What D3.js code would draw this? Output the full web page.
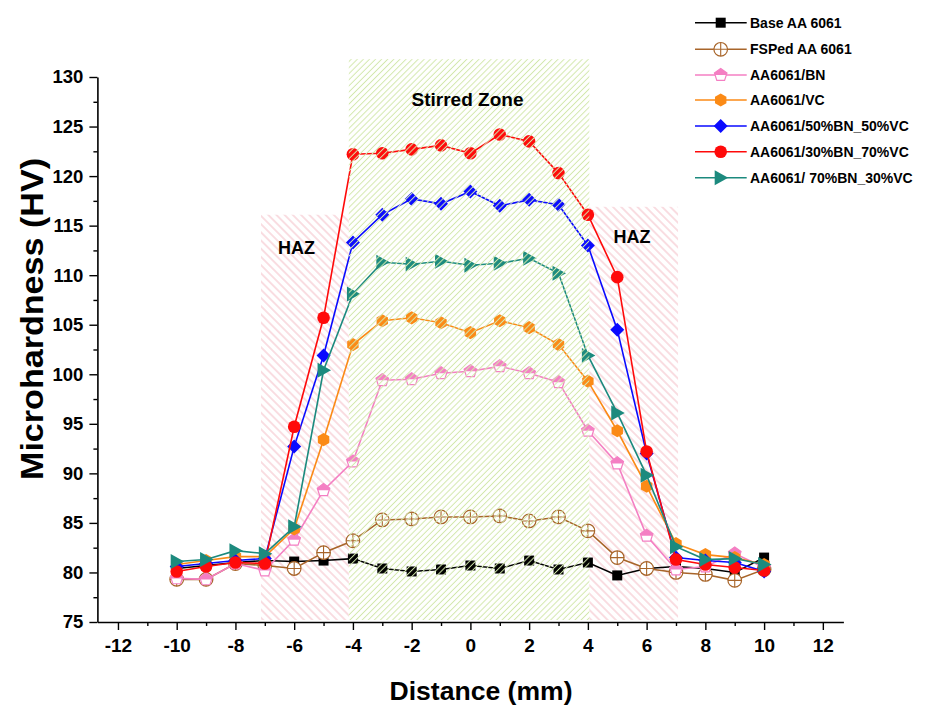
<!DOCTYPE html>
<html>
<head>
<meta charset="utf-8">
<script src="https://cdn.jsdelivr.net/npm/d3@7"></script>
<style>
  html, body { margin: 0; padding: 0; background: #fff; }
  svg { display: block; font-family: "Liberation Sans", Arial, Helvetica, sans-serif; font-weight: bold; }
</style>
</head>
<body>
<svg id="chart" width="926" height="706"></svg>
<script>
// Microhardness profiles across the weld, one value per mm from -10 to 10
const distance = [-10, -9, -8, -7, -6, -5, -4, -3, -2, -1, 0, 1, 2, 3, 4, 5, 6, 7, 8, 9, 10];

const baseAA6061 = [80.4, 80.7, 81.0, 81.2, 81.1, 81.2, 81.4, 80.4, 80.1, 80.3, 80.7, 80.4, 81.2, 80.3, 81.0, 79.7, 80.4, 80.6, 80.4, 80.0, 81.5];
const fspAA6061 = [79.3, 79.3, 80.9, 80.7, 80.4, 82.0, 83.2, 85.3, 85.4, 85.6, 85.6, 85.7, 85.2, 85.6, 84.2, 81.5, 80.4, 80.0, 79.8, 79.2, 80.3];
const bnComposite = [79.4, 79.3, 80.9, 80.2, 83.3, 88.3, 91.2, 99.4, 99.5, 100.1, 100.3, 100.8, 100.1, 99.2, 94.3, 91.0, 83.7, 80.3, 80.6, 81.9, 80.5];
const vcComposite = [80.8, 81.2, 81.6, 81.6, 84.4, 93.4, 103.0, 105.4, 105.7, 105.2, 104.2, 105.4, 104.7, 103.0, 99.3, 94.3, 88.7, 82.9, 81.8, 81.5, 80.8];
const bn50vc50 = [80.6, 80.9, 81.2, 81.4, 92.7, 101.9, 113.3, 116.1, 117.7, 117.2, 118.45, 117.0, 117.6, 117.1, 113.0, 104.5, 92.0, 81.5, 81.2, 81.0, 80.1];
const bn30vc70 = [80.1, 80.6, 81.0, 80.9, 94.7, 105.7, 122.2, 122.3, 122.7, 123.1, 122.3, 124.2, 123.5, 120.3, 116.1, 109.8, 92.2, 81.3, 80.8, 80.5, 80.2];
const bn70vc30 = [81.1, 81.3, 82.2, 81.9, 84.6, 100.4, 108.1, 111.3, 111.1, 111.4, 111.0, 111.2, 111.7, 110.2, 101.9, 96.1, 89.8, 82.6, 81.3, 81.4, 80.8];

const seriesNames = ["Base AA 6061", "FSPed AA 6061", "AA6061/BN", "AA6061/VC",
                     "AA6061/50%BN_50%VC", "AA6061/30%BN_70%VC", "AA6061/ 70%BN_30%VC"];
const seriesValues = [baseAA6061, fspAA6061, bnComposite, vcComposite, bn50vc50, bn30vc70, bn70vc30];
const seriesColors = ["#000000", "#a8652a", "#f47fc3", "#fb8a16", "#0a0aff", "#ff0a0a", "#1c8a7e"];
const seriesMarkers = ["square", "crossCircle", "halfPentagon", "hexagon", "diamond", "circle", "triangleRight"];

const xTicks = [-12, -10, -8, -6, -4, -2, 0, 2, 4, 6, 8, 10, 12];
const xMinorTicks = [-11, -9, -7, -5, -3, -1, 1, 3, 5, 7, 9, 11];
const yTicks = [75, 80, 85, 90, 95, 100, 105, 110, 115, 120, 125, 130];
const yMinorTicks = [77.5, 82.5, 87.5, 92.5, 97.5, 102.5, 107.5, 112.5, 117.5, 122.5, 127.5];

// Zones along the weld: [x start, x end, top hardness]
const hazLeft = [-7.13, -4.14, 116.1];
const stirredZone = [-4.14, 4.05, 131.8];
const hazRight = [4.05, 7.07, 116.9];

const svg = d3.select("#chart");
const x = d3.scaleLinear().domain([-12.7, 12.7]).range([97.4, 843.4]);
const y = d3.scaleLinear().domain([75, 130]).range([622, 77]);

// Hatch patterns for the zones
const defs = svg.append("defs");
function hatch(id, color, spacing, angle, width) {
  const p = defs.append("pattern")
    .attr("id", id)
    .attr("patternUnits", "userSpaceOnUse")
    .attr("width", spacing).attr("height", spacing)
    .attr("patternTransform", `rotate(${angle})`);
  p.append("line")
    .attr("x1", spacing / 2).attr("y1", -1)
    .attr("x2", spacing / 2).attr("y2", spacing + 1)
    .attr("stroke", color).attr("stroke-width", width);
}
hatch("hazHatch", "#f4bcc4", 5.8, -45, 1);
hatch("szHatch", "#d2e7ac", 4.3, 45, 1);

function zoneRect(g, zone, fill) {
  g.append("rect")
    .attr("x", x(zone[0]))
    .attr("y", y(zone[2]))
    .attr("width", x(zone[1]) - x(zone[0]))
    .attr("height", y(75.2) - y(zone[2]))
    .attr("fill", fill);
}

const under = svg.append("g");
zoneRect(under, hazLeft, "url(#hazHatch)");
zoneRect(under, hazRight, "url(#hazHatch)");

// Axes
const xAxis = svg.append("g").attr("transform", `translate(0,${y(75)})`)
  .call(d3.axisBottom(x).tickValues(xTicks).tickSize(8).tickSizeOuter(0).tickPadding(9));
svg.append("g").attr("transform", `translate(0,${y(75)})`)
  .call(d3.axisBottom(x).tickValues(xMinorTicks).tickSize(4).tickSizeOuter(0).tickFormat(""))
  .select(".domain").remove();
const yAxis = svg.append("g").attr("transform", `translate(${x.range()[0]},0)`)
  .call(d3.axisLeft(y).tickValues(yTicks).tickSize(8).tickSizeOuter(0).tickPadding(6));
svg.append("g").attr("transform", `translate(${x.range()[0]},0)`)
  .call(d3.axisLeft(y).tickValues(yMinorTicks).tickSize(4).tickSizeOuter(0).tickFormat(""))
  .select(".domain").remove();

svg.selectAll(".domain").attr("stroke-width", 1.6);
svg.selectAll(".tick line").attr("stroke-width", 1.4);
xAxis.selectAll(".tick text")
  .attr("font-size", 19).attr("font-weight", "bold").attr("font-family", "inherit")
  .text(d => d < 0 ? "-" + Math.abs(d) : d);
yAxis.selectAll(".tick text")
  .attr("font-size", 18.5).attr("font-weight", "bold").attr("font-family", "inherit");

// Axis titles
svg.append("text")
  .attr("x", 481).attr("y", 700)
  .attr("text-anchor", "middle")
  .attr("font-size", 26)
  .attr("textLength", 183).attr("lengthAdjust", "spacingAndGlyphs")
  .text("Distance (mm)");
svg.append("text")
  .attr("transform", "translate(43,319) rotate(-90)")
  .attr("text-anchor", "middle")
  .attr("font-size", 31)
  .attr("textLength", 322).attr("lengthAdjust", "spacingAndGlyphs")
  .text("Microhardness (HV)");

// Marker shapes
function drawMarker(g, type, color) {
  switch (type) {
    case "square":
      g.append("rect").attr("x", -5).attr("y", -5).attr("width", 10).attr("height", 10).attr("fill", color);
      break;
    case "crossCircle":
      g.append("circle").attr("r", 6.8).attr("fill", "#fff").attr("stroke", color).attr("stroke-width", 1.2);
      g.append("path").attr("d", "M-6.8,0H6.8M0,-6.8V6.8").attr("stroke", color).attr("stroke-width", 1.1);
      break;
    case "halfPentagon": {
      const r = 6.6;
      const pts = d3.range(5).map(i => {
        const a = -Math.PI / 2 + i * 2 * Math.PI / 5;
        return [r * Math.cos(a), r * Math.sin(a)];
      });
      g.append("polygon").attr("points", pts.map(p => p.join(",")).join(" "))
        .attr("fill", "#fff").attr("stroke", color).attr("stroke-width", 1.2);
      const t = (0 - pts[1][1]) / (pts[2][1] - pts[1][1]);
      const xr = pts[1][0] + (pts[2][0] - pts[1][0]) * t;
      const top = [pts[0], pts[1], [xr, 0], [-xr, 0], pts[4]];
      g.append("polygon").attr("points", top.map(p => p.join(",")).join(" ")).attr("fill", color);
      break;
    }
    case "hexagon": {
      const r = 6.6;
      const pts = d3.range(6).map(i => {
        const a = -Math.PI / 2 + i * Math.PI / 3;
        return [r * Math.cos(a), r * Math.sin(a)].join(",");
      });
      g.append("polygon").attr("points", pts.join(" ")).attr("fill", color);
      break;
    }
    case "diamond":
      g.append("polygon").attr("points", "0,-7 7,0 0,7 -7,0").attr("fill", color);
      break;
    case "circle":
      g.append("circle").attr("r", 6.3).attr("fill", color);
      break;
    case "triangleRight":
      g.append("polygon").attr("points", "7.5,0 -6,-7.5 -6,7.5").attr("fill", color);
      break;
  }
}

// Series lines and markers
const line = d3.line().x((d, i) => x(distance[i])).y(d => y(d));
seriesValues.forEach((vals, k) => {
  const g = svg.append("g");
  g.append("path").datum(vals)
    .attr("d", line)
    .attr("fill", "none")
    .attr("stroke", seriesColors[k])
    .attr("stroke-width", 1.6);
  vals.forEach((v, i) => {
    const m = g.append("g").attr("transform", `translate(${x(distance[i])},${y(v)})`);
    drawMarker(m, seriesMarkers[k], seriesColors[k]);
  });
});

// Stirred zone hatch sits over the data
const over = svg.append("g");
zoneRect(over, stirredZone, "url(#szHatch)");

// Zone labels
svg.append("text").attr("x", 467.5).attr("y", 106).attr("text-anchor", "middle").attr("font-size", 19).text("Stirred Zone");
svg.append("text").attr("x", 296.5).attr("y", 254).attr("text-anchor", "middle").attr("font-size", 18).text("HAZ");
svg.append("text").attr("x", 632).attr("y", 243).attr("text-anchor", "middle").attr("font-size", 18).text("HAZ");

// Legend
const legendRows = [22.7, 49.3, 75, 100, 126, 151.7, 177.7];
seriesNames.forEach((name, k) => {
  const g = svg.append("g").attr("transform", `translate(0,${legendRows[k]})`);
  g.append("line").attr("x1", 695).attr("x2", 746.7).attr("y1", 0).attr("y2", 0)
    .attr("stroke", seriesColors[k]).attr("stroke-width", 1.6);
  const m = g.append("g").attr("transform", "translate(720.7,0)");
  drawMarker(m, seriesMarkers[k], seriesColors[k]);
  g.append("text").attr("x", 750).attr("y", 5).attr("font-size", 14).text(name);
});
</script>
</body>
</html>
